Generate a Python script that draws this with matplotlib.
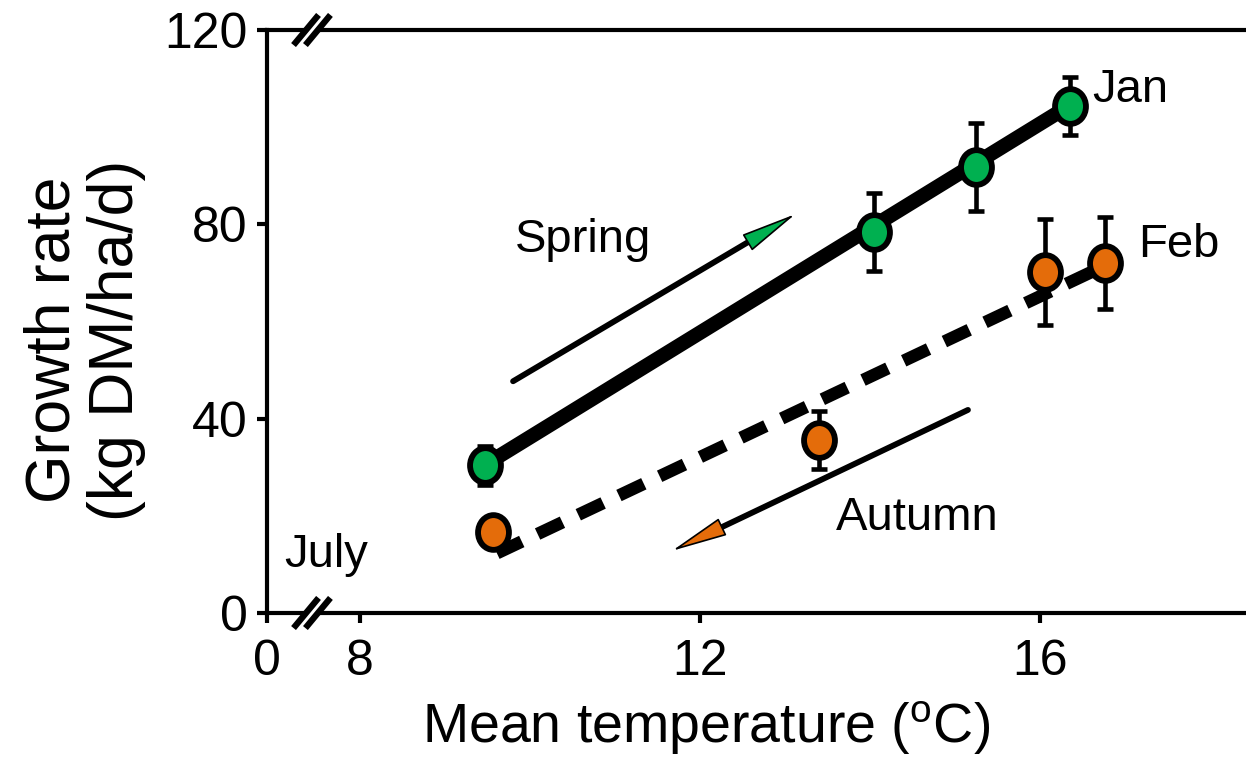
import matplotlib
matplotlib.use("Agg")
import matplotlib.pyplot as plt
from matplotlib.path import Path
from matplotlib.patches import Polygon
import numpy as np

plt.rcParams['font.family'] = ['Liberation Sans', 'DejaVu Sans']
plt.rcParams['mathtext.fontset'] = 'custom'
plt.rcParams['mathtext.rm'] = 'Liberation Sans'

# spring (green) and autumn (orange) growth rates
x_spring = [9.47, 14.04, 15.24, 16.35]
y_spring = [30.4, 78.4, 91.8, 104.3]
err_spring = [4, 8, 9, 6]

x_autumn = [9.56, 13.4, 16.06, 16.76]
y_autumn = [16.7, 35.6, 70.2, 72.0]
err_autumn = [0, 6, 11, 9.5]

# fitted lines (end points)
fit_spring_x = [9.47, 16.35]
fit_spring_y = [30.5, 104.5]
fit_autumn_x = [9.61, 16.7]
fit_autumn_y = [12.3, 71.0]

xticks = [6.906, 8, 12, 16]
xticklabels = ['0', '8', '12', '16']
yticks = [0, 40, 80, 120]

green = '#00B050'
orange = '#E46C0A'

# slightly tall ellipse marker
circ = Path.unit_circle()
ell = Path(circ.vertices * np.array([0.89, 1.0]), circ.codes)

fig = plt.figure(figsize=(12.46, 7.58), dpi=100)
ax = fig.add_axes([267/1246, 1 - 613/758, 1 - 267/1246, (613 - 30)/758])

ax.plot(fit_spring_x, fit_spring_y, color='black', lw=10.5, solid_capstyle='butt', zorder=2)
ax.plot(fit_autumn_x, fit_autumn_y, color='black', lw=9, dashes=(2.2, 1.4),
        dash_capstyle='butt', zorder=2)

ax.errorbar(x_spring, y_spring, yerr=err_spring, fmt='none', ecolor='black',
            elinewidth=3.3, capsize=6, capthick=3.3, zorder=3)
ax.errorbar(x_autumn, y_autumn, yerr=err_autumn, fmt='none', ecolor='black',
            elinewidth=3.3, capsize=6, capthick=3.3, zorder=3)

ax.plot(x_spring, y_spring, ls='none', marker=ell, ms=25, mfc=green, mec='black', mew=4.2, zorder=4)
ax.plot(x_autumn, y_autumn, ls='none', marker=ell, ms=25, mfc=orange, mec='black', mew=4.2, zorder=4)

# season arrows: thick shaft, then a thin-edged coloured head on top
arrows = [((9.8, 47.7), (13.12, 82.1), green),
          ((15.15, 41.8), (11.67, 12.8), orange)]
for start, tip, col in arrows:
    ax.annotate('', xy=tip, xytext=start,
                arrowprops=dict(arrowstyle='-', color='black', lw=4.2,
                                shrinkA=0, shrinkB=25))
    ax.annotate('', xy=tip, xytext=start,
                arrowprops=dict(arrowstyle='-|>,head_length=1.8,head_width=0.3',
                                fc=col, ec='black', lw=1.2, shrinkA=0, shrinkB=0,
                                mutation_scale=20))

ax.text(10.62, 76.7, 'Spring', fontsize=34, ha='center', va='center')
ax.text(14.55, 19.5, 'Autumn', fontsize=34, ha='center', va='center')
ax.text(16.61, 107.6, 'Jan', fontsize=34, ha='left', va='center')
ax.text(17.15, 75.7, 'Feb', fontsize=34, ha='left', va='center')
ax.text(7.106, 11.9, 'July', fontsize=34, ha='left', va='center')

ax.set_xlim(6.906, 18.42)
ax.set_ylim(0, 120)
ax.set_xticks(xticks)
ax.set_xticklabels(xticklabels)
ax.set_yticks(yticks)
ax.tick_params(labelsize=36, width=3, length=7, direction='out')
ax.tick_params(axis='x', pad=12)
ax.tick_params(axis='y', pad=7)
ax.spines['right'].set_visible(False)
for s in ['left', 'bottom', 'top']:
    ax.spines[s].set_linewidth(3)

# axis break marks on top and bottom spines
xc = 7.435
dx, dy, off = 0.147, 3.1, 0.07
for yb in [0, 120]:
    white = Polygon([(xc - off - dx, yb - dy), (xc - off + dx, yb + dy),
                     (xc + off + dx, yb + dy), (xc + off - dx, yb - dy)],
                    closed=True, fc='white', ec='none', clip_on=False, zorder=5)
    ax.add_patch(white)
    for o in [-off, off]:
        ax.plot([xc + o - dx, xc + o + dx], [yb - dy, yb + dy], color='black',
                lw=4.5, solid_capstyle='butt', clip_on=False, zorder=6)

fig.text(706/1246, 1 - 728/758, r'Mean temperature ($\mathregular{^o}$C)',
         fontsize=40, ha='center', va='center')
fig.text(85/1246, 1 - 340/758, 'Growth rate\n(kg DM/ha/d)', fontsize=45,
         rotation=90, ha='center', va='center', linespacing=1.1)

fig.savefig('out.png', dpi=100)
